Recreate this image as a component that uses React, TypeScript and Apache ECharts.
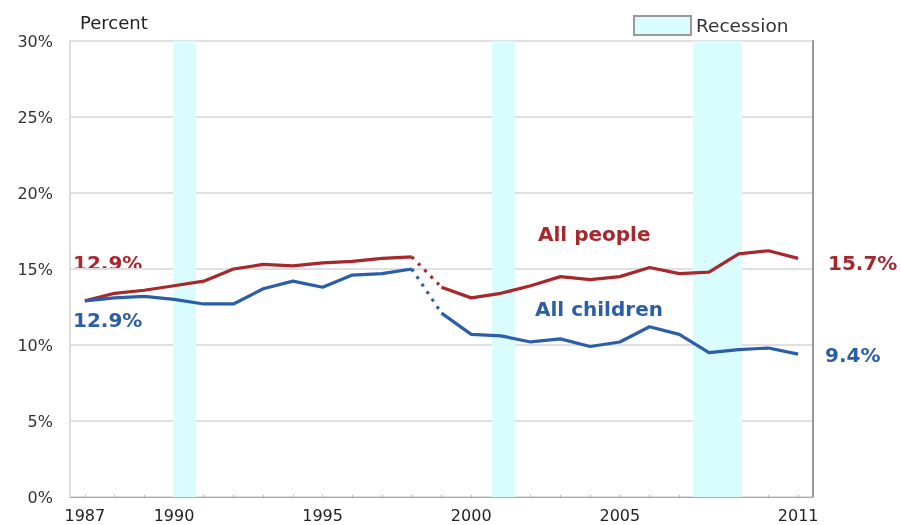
import React, { useEffect, useRef } from "react";
import * as echarts from "echarts";

const years = [
  "1987", "1988", "1989", "1990", "1991", "1992", "1993", "1994", "1995", "1996",
  "1997", "1998", "1999", "2000", "2001", "2002", "2003", "2004", "2005", "2006",
  "2007", "2008", "2009", "2010", "2011",
];
const tickYears = ["1987", "1990", "1995", "2000", "2005", "2011"];
const allPeople = [
  12.9, 13.4, 13.6, 13.9, 14.2, 15.0, 15.3, 15.2, 15.4, 15.5, 15.7, 15.8,
  13.8, 13.1, 13.4, 13.9, 14.5, 14.3, 14.5, 15.1, 14.7, 14.8, 16.0, 16.2, 15.7,
];
const allChildren = [
  12.9, 13.1, 13.2, 13.0, 12.7, 12.7, 13.7, 14.2, 13.8, 14.6, 14.7, 15.0,
  12.1, 10.7, 10.6, 10.2, 10.4, 9.9, 10.2, 11.2, 10.7, 9.5, 9.7, 9.8, 9.4,
];
// recession periods in fractional years [start, end]
const recessions: [number, number][] = [
  [1989.97, 1990.74],
  [2000.7, 2001.47],
  [2007.46, 2009.11],
];
const breakIndex = 11; // last point of the first segment (1998)

const RED = "#a6282d";
const BLUE = "#2b5ea7";
const REC = "#d9fcff";
const FONT = '"DejaVu Sans", "Liberation Sans", sans-serif';

const segment = (arr: number[], from: number, to: number) =>
  arr.map((v, i) => (i >= from && i <= to ? v : null));
const pct = (v: number) => `${v.toFixed(1)}%`;

export default function App() {
  const ref = useRef<HTMLDivElement>(null);
  useEffect(() => {
    if (!ref.current) return;
    const chart = echarts.init(ref.current, null, { renderer: "svg" });
    const last = years.length - 1;
    const lineBase = (name: string, color: string, data: (number | null)[], dotted: boolean) => ({
      type: "line",
      name,
      xAxisIndex: 0,
      yAxisIndex: 0,
      data,
      symbol: "none",
      connectNulls: false,
      z: 5,
      lineStyle: { color, width: 3.2, type: dotted ? [3, 6] : "solid" },
      itemStyle: { color },
    });
    chart.setOption({
      animation: false,
      grid: {
        left: 70,
        right: 88,
        top: 41,
        bottom: 28,
        show: true,
        borderColor: "#b4b4b4",
        borderWidth: 1,
        backgroundColor: "transparent",
      },
      legend: {
        data: ["Recession"],
        left: 633,
        top: 15,
        padding: 0,
        itemWidth: 57,
        itemHeight: 19,
        itemGap: 6,
        icon: "rect",
        itemStyle: { borderColor: "#9a9a9a", borderWidth: 2 },
        textStyle: { fontSize: 18.5, color: "#333", fontFamily: FONT },
        selectedMode: false,
      },
      xAxis: [
        {
          type: "category",
          data: years,
          boundaryGap: true,
          axisLine: { show: true, lineStyle: { color: "#aaaaaa", width: 1 } },
          axisTick: {
            show: true,
            inside: true,
            length: 2,
            alignWithLabel: true,
            interval: 0,
            lineStyle: { color: "#b4b4b4" },
          },
          axisLabel: {
            interval: (_i: number, v: string) => tickYears.includes(v),
            margin: 10,
            fontSize: 16,
            color: "#222",
            fontFamily: FONT,
          },
          splitLine: { show: false },
        },
        {
          type: "value",
          min: 1986.5,
          max: 2011.5,
          show: false,
        },
      ],
      yAxis: [
        {
          type: "value",
          min: 0,
          max: 30,
          interval: 5,
          name: "Percent",
          nameLocation: "end",
          nameGap: 10,
          nameTextStyle: {
            align: "left",
            padding: [0, 0, 0, 10],
            fontSize: 18,
            color: "#222",
            fontFamily: FONT,
          },
          axisLine: { show: true, lineStyle: { color: "#dcdcdc", width: 2 } },
          axisTick: { show: false },
          axisLabel: {
            formatter: "{value}%",
            margin: 17,
            fontSize: 16,
            color: "#333",
            fontFamily: FONT,
          },
          splitLine: { show: true, lineStyle: { color: "#e0e0e0", width: 2 } },
        },
        {
          type: "value",
          min: 0,
          max: 30,
          interval: 5,
          position: "right",
          axisLine: { show: true, lineStyle: { color: "#999999", width: 2 } },
          axisTick: { show: false },
          axisLabel: { show: false },
          splitLine: { show: false },
        },
      ],
      series: [
        {
          type: "custom",
          name: "Recession",
          xAxisIndex: 1,
          yAxisIndex: 0,
          data: recessions,
          encode: { x: [0, 1] },
          itemStyle: { color: REC },
          z: 1,
          renderItem: (_p: any, api: any) => {
            const s = api.coord([api.value(0), 30]);
            const e = api.coord([api.value(1), 0]);
            return {
              type: "rect",
              shape: { x: s[0], y: s[1], width: e[0] - s[0], height: e[1] - s[1] },
              style: { fill: REC },
            };
          },
        },
        lineBase("All people", RED, segment(allPeople, 0, breakIndex), false),
        lineBase("All people bridge", RED, segment(allPeople, breakIndex, breakIndex + 1), true),
        lineBase("All people later", RED, segment(allPeople, breakIndex + 1, last), false),
        lineBase("All children", BLUE, segment(allChildren, 0, breakIndex), false),
        lineBase("All children bridge", BLUE, segment(allChildren, breakIndex, breakIndex + 1), true),
        lineBase("All children later", BLUE, segment(allChildren, breakIndex + 1, last), false),
      ],
      graphic: [
        { type: "text", x: 73, y: 263, style: { text: pct(allPeople[0]), fill: RED, font: `bold 20px ${FONT}`, verticalAlign: "middle" } },
        { type: "text", x: 73, y: 320, style: { text: pct(allChildren[0]), fill: BLUE, font: `bold 20px ${FONT}`, verticalAlign: "middle" } },
        { type: "text", x: 538, y: 234, style: { text: "All people", fill: RED, font: `bold 20px ${FONT}`, verticalAlign: "middle" } },
        { type: "text", x: 535, y: 309, style: { text: "All children", fill: BLUE, font: `bold 20px ${FONT}`, verticalAlign: "middle" } },
        { type: "text", x: 828, y: 263, style: { text: pct(allPeople[last]), fill: RED, font: `bold 20px ${FONT}`, verticalAlign: "middle" } },
        { type: "text", x: 825, y: 355, style: { text: pct(allChildren[last]), fill: BLUE, font: `bold 20px ${FONT}`, verticalAlign: "middle" } },
      ],
    });
    return () => chart.dispose();
  }, []);
  return (
    <div
      ref={ref}
      style={{ position: "fixed", left: 0, top: 0, width: 901, height: 525 }}
    />
  );
}
